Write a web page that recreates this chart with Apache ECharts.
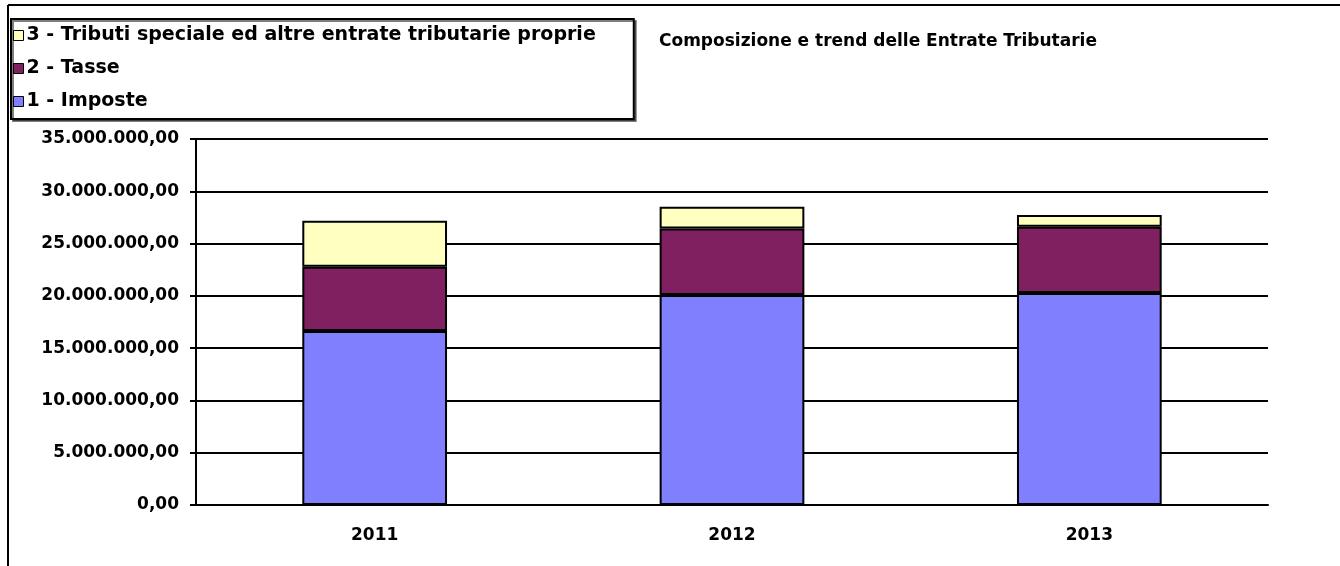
<!DOCTYPE html>
<html>
<head>
<meta charset="utf-8">
<title>Composizione e trend delle Entrate Tributarie</title>
<script src="https://cdn.jsdelivr.net/npm/echarts@6/dist/echarts.min.js"></script>
<style>
	html, body { margin: 0; padding: 0; background: #fff; }
	#chart { width: 1340px; height: 566px; }
</style>
</head>
<body>
<div id="chart"></div>
<script>
// categorie (anni)
var anni = ['2011', '2012', '2013'];
// valori
var imposte = [16650000, 20080000, 20270000];
var tasse = [6130000, 6370000, 6330000];
var tributi = [4400000, 2070000, 1130000];
var nomi = ['1 - Imposte', '2 - Tasse', '3 - Tributi speciale ed altre entrate tributarie proprie'];

var font = 'DejaVu Sans';

// 35000000 -> "35.000.000,00"
function formatEuro(v){
	var parti = Math.round(v).toString();
	var out = '';
	while(parti.length > 3){
		out = '.' + parti.slice(-3) + out;
		parti = parti.slice(0, -3);
	}
	return parti + out + ',00';
}

function serie(nome, dati, colore){
	return {
		name: nome,
		type: 'bar',
		stack: 'entrate',
		barWidth: '40.5%',
		data: dati,
		itemStyle: {
			color: colore,
			borderColor: '#000',
			borderWidth: 2
		}
	};
}

var chart = echarts.init(document.getElementById('chart'));
chart.setOption({
	animation: false,
	backgroundColor: '#fff',
	title: {
		text: 'Composizione e trend delle Entrate Tributarie',
		left: 659,
		top: 33,
		padding: 0,
		textStyle: { fontFamily: font, fontWeight: 'bold', fontSize: 17, color: '#000' }
	},
	legend: {
		orient: 'vertical',
		left: 11,
		top: 19,
		data: [nomi[2], nomi[1], nomi[0]],
		icon: 'rect',
		itemWidth: 10,
		itemHeight: 10,
		itemGap: 14,
		padding: [7, 38, 8, 2],
		borderColor: '#000',
		borderWidth: 2,
		backgroundColor: '#fff',
		shadowColor: 'rgba(0,0,0,0.5)',
		shadowOffsetX: 2,
		shadowOffsetY: 2,
		itemStyle: { borderColor: '#000', borderWidth: 1 },
		textStyle: { fontFamily: font, fontWeight: 'bold', fontSize: 19, color: '#000', padding: [0, 0, 0, -2] }
	},
	grid: { left: 196, right: 72, top: 139, bottom: 61, containLabel: false },
	xAxis: {
		type: 'category',
		data: anni,
		axisLine: { lineStyle: { color: '#000', width: 2 } },
		axisTick: { length: 6, lineStyle: { color: '#000', width: 2 } },
		axisLabel: { margin: 22, fontFamily: font, fontWeight: 'bold', fontSize: 17, color: '#000' }
	},
	yAxis: {
		type: 'value',
		min: 0,
		max: 35000000,
		interval: 5000000,
		axisLine: { show: true, lineStyle: { color: '#000', width: 2 } },
		axisTick: { show: true, length: 6, lineStyle: { color: '#000', width: 2 } },
		splitLine: { lineStyle: { color: '#000', width: 2 } },
		axisLabel: {
			margin: 17,
			padding: [4, 0, 0, 0],
			fontFamily: font,
			fontWeight: 'bold',
			fontSize: 17,
			color: '#000',
			formatter: formatEuro
		}
	},
	series: [
		serie(nomi[0], imposte, '#8080FF'),
		serie(nomi[1], tasse, '#802060'),
		serie(nomi[2], tributi, '#FFFFC0')
	],
	// cornice della pagina (linea in alto e a sinistra)
	graphic: [
		{ type: 'line', silent: true, shape: { x1: 8, y1: 5, x2: 1340, y2: 5 }, style: { stroke: '#000', lineWidth: 2 } },
		{ type: 'line', silent: true, shape: { x1: 8, y1: 5, x2: 8, y2: 566 }, style: { stroke: '#000', lineWidth: 2 } }
	]
});
</script>
</body>
</html>
